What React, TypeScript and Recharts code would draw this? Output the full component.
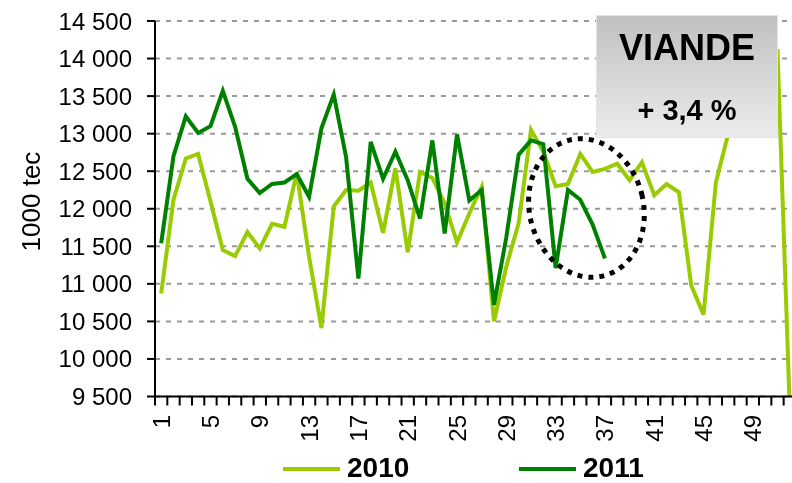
import { LineChart, Line, XAxis, YAxis, CartesianGrid, ReferenceDot } from 'recharts';

// weekly meat output, 1000 tec
const weeks = [
  1, 2, 3, 4, 5, 6, 7, 8, 9, 10, 11, 12, 13, 14, 15, 16, 17, 18, 19, 20, 21, 22, 23, 24, 25, 26,
  27, 28, 29, 30, 31, 32, 33, 34, 35, 36, 37, 38, 39, 40, 41, 42, 43, 44, 45, 46, 47, 48, 49, 50, 51, 52,
];
const tonnes2010 = [
  10870, 12120, 12670, 12730, 12100, 11450, 11370, 11690, 11470, 11800, 11760, 12480, 11360, 10410,
  12030, 12250, 12240, 12350, 11680, 12540, 11420, 12490, 12410, 12070, 11550, 11940, 12290, 10500,
  11230, 11810, 13050, 12760, 12300, 12330, 12730, 12490, 12530, 12600, 12380, 12620, 12180, 12330,
  12220, 10980, 10590, 12350, 13000, 13400, 13800, 14100, 14100, 9300,
];
const tonnes2011 = [
  11540, 12700, 13230, 13010, 13100, 13570, 13090, 12400, 12210, 12330, 12350, 12460, 12160, 13070,
  13520, 12690, 11070, 12890, 12400, 12760, 12380, 11870, 12910, 11670, 12990, 12110, 12250, 10720,
  11620, 12720, 12910, 12860, 11210, 12250, 12120, 11790, 11340,
];
const yTicks = [9500, 10000, 10500, 11000, 11500, 12000, 12500, 13000, 13500, 14000, 14500];
const weekLabels = [1, 5, 9, 13, 17, 21, 25, 29, 33, 37, 41, 45, 49];

const LIGHT = '#99CC00';
const DARK = '#008000';
const FONT = '"Liberation Sans", Arial, sans-serif';

const data = weeks.map((week, i) => ({
  week,
  y2010: tonnes2010[i],
  y2011: i < tonnes2011.length ? tonnes2011[i] : null,
}));

// tick marks sit between the weeks, labels on the weeks
const weekTicks = [...weeks.map((w) => w - 0.5), 52.5, ...weekLabels].sort((a, b) => a - b);

const fmt = (v: number) => String(v).replace(/\B(?=(\d{3})+(?!\d))/g, ' ');

function WeekTick({ x, y, payload }: any) {
  const v = payload.value;
  if (v % 1 !== 0) {
    return <line x1={x} y1={y} x2={x} y2={y + 9} stroke="#000" strokeWidth={2} />;
  }
  return (
    <text
      transform={`translate(${x + 8.5},${y + 18.5}) rotate(-90)`}
      textAnchor="end"
      fontSize={24}
      fontFamily={FONT}
      fill="#000"
    >
      {v}
    </text>
  );
}

function YTitle() {
  return (
    <text
      transform="translate(32,193.5) rotate(-90)"
      textAnchor="middle"
      fontSize={26}
      fontFamily={FONT}
      fill="#000"
    >
      1000 tec
    </text>
  );
}

const DottedEllipse = ({ cx, cy }: any) => (
  <ellipse
    cx={cx}
    cy={cy}
    rx={57}
    ry={70}
    transform={`rotate(-14 ${cx} ${cy})`}
    fill="none"
    stroke="#000"
    strokeWidth={5}
    strokeDasharray="5 6"
  />
);

export default function App() {
  return (
    <div
      style={{ position: 'fixed', left: 8, top: 8, width: 784, height: 475, overflow: 'hidden', fontFamily: FONT }}
    >
      <LineChart width={800} height={475} data={data} margin={{ top: 13, right: 12, bottom: 0, left: 0 }}>
        <CartesianGrid vertical={false} stroke="#999" strokeWidth={2} strokeDasharray="5 6" />
        <XAxis
          dataKey="week"
          type="number"
          domain={[0.5, 52.5]}
          ticks={weekTicks}
          interval={0}
          tick={<WeekTick />}
          tickLine={false}
          tickSize={0}
          tickMargin={0}
          height={86.5}
          axisLine={{ stroke: '#000', strokeWidth: 2 }}
        />
        <YAxis
          domain={[9500, 14500]}
          ticks={yTicks}
          allowDataOverflow
          width={147}
          tickSize={8}
          tickMargin={15}
          tickFormatter={fmt}
          tick={{ fill: '#000', fontSize: 24, fontFamily: FONT }}
          tickLine={{ stroke: '#000', strokeWidth: 2 }}
          axisLine={{ stroke: '#000', strokeWidth: 2 }}
          label={<YTitle />}
        />
        <Line dataKey="y2010" stroke={LIGHT} strokeWidth={4} dot={false} isAnimationActive={false} />
        <Line dataKey="y2011" stroke={DARK} strokeWidth={4} dot={false} isAnimationActive={false} />
        <ReferenceDot x={35.5} y={12010} r={1} shape={<DottedEllipse />} />
      </LineChart>

      {/* VIANDE box and legend */}
      <svg width={784} height={475} style={{ position: 'absolute', left: 0, top: 0, pointerEvents: 'none' }}>
        <defs>
          <linearGradient id="boxFill" x1="0" y1="0" x2="0" y2="1">
            <stop offset="0%" stopColor="#c0c0c0" />
            <stop offset="100%" stopColor="#ececec" />
          </linearGradient>
        </defs>
        <rect x={588.5} y={7.5} width={181} height={122} fill="url(#boxFill)" stroke="#e4e4e4" strokeWidth={1} />
        <text x={679} y={52} textAnchor="middle" fontSize={36} fontWeight="bold" fontFamily={FONT} fill="#000">
          VIANDE
        </text>
        <text x={679} y={112} textAnchor="middle" fontSize={29} fontWeight="bold" fontFamily={FONT} fill="#000">
          + 3,4 %
        </text>

        <line x1={275} y1={461} x2={332} y2={461} stroke={LIGHT} strokeWidth={4} />
        <text x={339} y={469} fontSize={28} fontWeight="bold" fontFamily={FONT} fill="#000">2010</text>
        <line x1={511} y1={461} x2={568} y2={461} stroke={DARK} strokeWidth={4} />
        <text x={575} y={469} fontSize={28} fontWeight="bold" fontFamily={FONT} fill="#000">2011</text>
      </svg>
    </div>
  );
}
